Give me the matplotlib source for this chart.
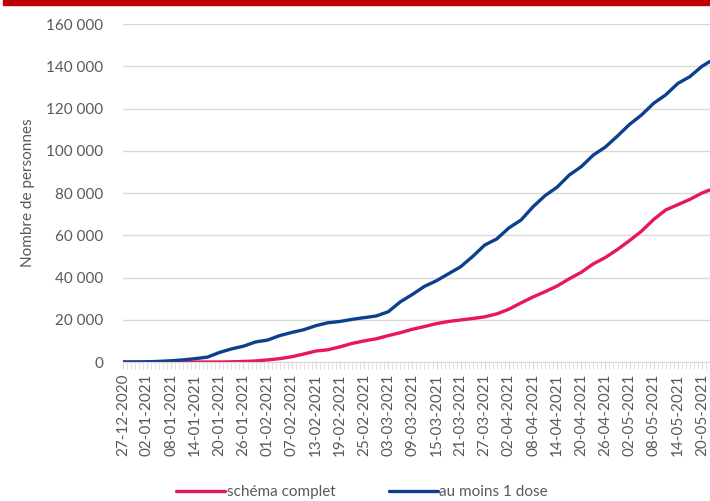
import pandas as pd
import matplotlib
matplotlib.use("Agg")
import matplotlib.pyplot as plt
import matplotlib.dates as mdates
from matplotlib.patches import Rectangle

# values read every 3 days from 27-12-2020, last point 22-05-2021
dates = list(pd.date_range("2020-12-27", "2021-05-20", freq="3D")) + [pd.Timestamp("2021-05-22")]
au_moins_1_dose = [0, 0, 100, 300, 600, 1000, 1600, 2300, 4500, 6200,
                   7500, 9500, 10400, 12500, 14000, 15300, 17200, 18600, 19200, 20200,
                   21000, 21800, 23800, 28500, 32000, 35800, 38500, 41800, 45100, 50000,
                   55400, 58300, 63500, 67200, 73500, 78800, 82800, 88500, 92500, 98000,
                   101800, 107000, 112500, 117000, 122500, 126500, 131900, 135100, 140000, 142300]
schema_complet = [0, 0, 0, 0, 0, 0, 0, 0, 0, 100,
                  250, 500, 1000, 1600, 2500, 3800, 5200, 5800, 7200, 8800,
                  10000, 11000, 12500, 13900, 15500, 16800, 18200, 19200, 19900, 20600,
                  21400, 22800, 25000, 28000, 30800, 33300, 36000, 39400, 42500, 46500,
                  49500, 53300, 57500, 62000, 67500, 72000, 74500, 77000, 80000, 81500]
tick_dates = pd.date_range("2020-12-27", "2021-05-20", freq="6D")
day_dates = pd.date_range("2020-12-27", "2021-05-22", freq="D")

plt.rcParams['font.family'] = ['Lato', 'DejaVu Sans']
grey = "#595959"

fig = plt.figure(figsize=(7.1, 5.01), dpi=100)
fig.patches.append(Rectangle((0.004, 0.99), 0.996, 0.012, transform=fig.transFigure,
                             color="#C00000", zorder=5))
ax = fig.add_axes([0.173, 0.2774, 0.827, 0.6746])

ax.plot(dates, schema_complet, color="#E8175D", lw=2.4, label="schéma complet", solid_capstyle="round")
ax.plot(dates, au_moins_1_dose, color="#0D3F8F", lw=2.4, label="au moins 1 dose", solid_capstyle="round")

ax.set_ylim(0, 160000)
ax.set_xlim(dates[0], dates[-1])
ax.set_yticks(range(0, 160001, 20000))
ax.set_yticklabels([f"{v:,}".replace(",", " ") for v in range(0, 160001, 20000)])
ax.grid(axis="y", color="#D9D9D9", lw=1)
ax.set_axisbelow(True)

ax.xaxis.set_major_locator(matplotlib.ticker.FixedLocator(mdates.date2num(tick_dates)))
ax.xaxis.set_minor_locator(matplotlib.ticker.FixedLocator(mdates.date2num(day_dates)))
ax.xaxis.set_major_formatter(mdates.DateFormatter("%d-%m-%Y"))
plt.setp(ax.get_xticklabels(), rotation=90)

for s in ["top", "right", "left"]:
    ax.spines[s].set_visible(False)
ax.spines["bottom"].set_color("#D9D9D9")
ax.tick_params(axis="y", length=0, labelsize=11, labelcolor=grey, pad=14)
ax.tick_params(axis="x", which="both", length=5, color="#D9D9D9", labelsize=11, labelcolor=grey, pad=3)
ax.set_ylabel("Nombre de personnes", fontsize=11, color=grey, labelpad=8)

fig.legend(loc="center", bbox_to_anchor=(0.51, 0.018), ncol=2, frameon=False,
           fontsize=11, labelcolor=grey, handlelength=3.2, handletextpad=0.1, columnspacing=3.5)

fig.savefig("out.png", dpi=100)
